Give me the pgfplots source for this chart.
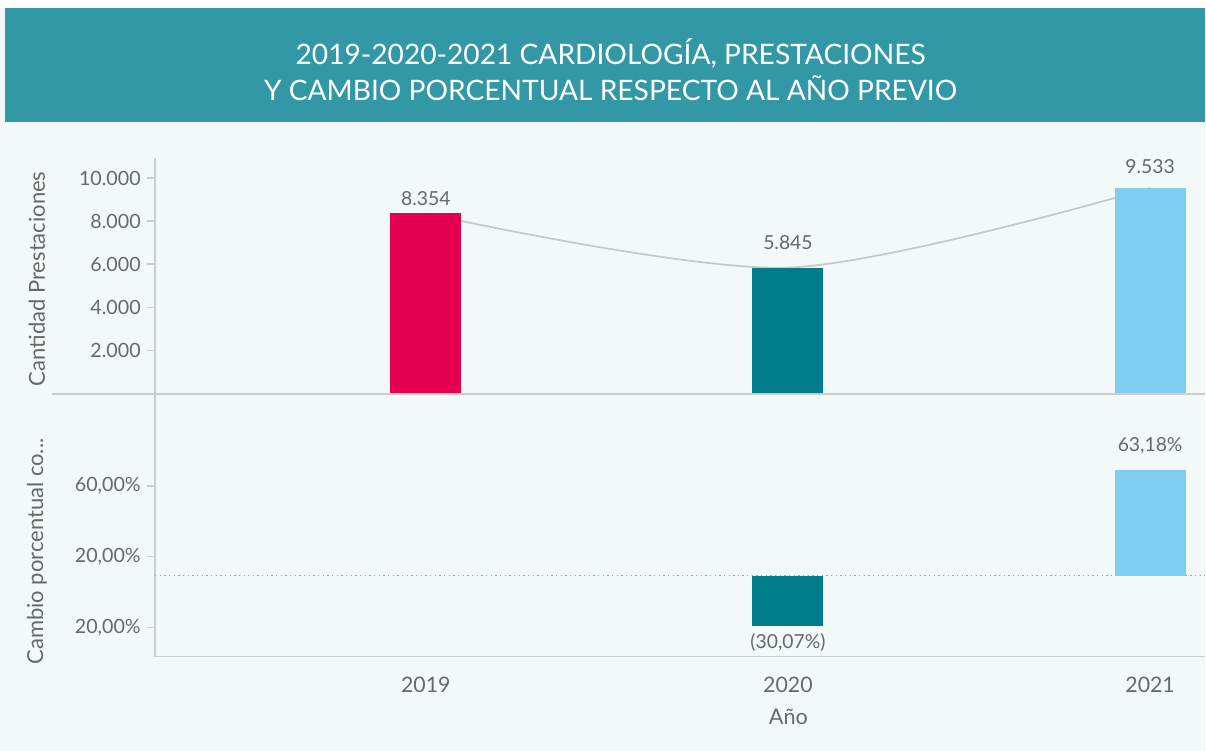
\documentclass[border=0pt]{standalone}
\usepackage{pgfplots}
\pgfplotsset{compat=1.18}
\usepackage{fontspec}
\setmainfont{Lato}
\definecolor{banner}{RGB}{51,152,166}
\definecolor{bgc}{RGB}{243,248,249}
\definecolor{red19}{RGB}{228,0,79}
\definecolor{teal20}{RGB}{0,124,138}
\definecolor{blue21}{RGB}{128,205,242}
\definecolor{axgray}{RGB}{204,204,204}
\definecolor{txt}{RGB}{104,104,104}
\begin{document}
\begin{tikzpicture}
% canvas and title banner
\fill[bgc] (0,0) rectangle (723.6pt,-450.6pt);
\fill[white] (0,0) rectangle (723.6pt,-4.8pt);
\fill[banner] (3pt,-4.8pt) rectangle (723.6pt,-73.2pt);
\node[white, align=center, font=\fontsize{16.9}{21.6}\selectfont] at (366.6pt,-42pt)
  {2019-2020-2021 CARDIOLOGÍA, PRESTACIONES\\Y CAMBIO PORCENTUAL RESPECTO AL AÑO PREVIO};

\pgfplotsset{
  panel/.style={
    scale only axis, width=630.6pt,
    xmin=-0.748, xmax=2.152,
    axis line style={axgray, line width=1pt},
    tick style={axgray, line width=1pt},
    tick align=outside, major tick length=5pt,
    yticklabel style={txt, font=\fontsize{11.8}{14}\selectfont},
    /pgf/number format/assume math mode=true,
    nodes near coords style={txt, font=\fontsize{11.6}{14}\selectfont},
  },
}

% top panel: prestaciones
\begin{axis}[panel,
  at={(93pt,-236.4pt)}, anchor=south west, height=141.6pt,
  ymin=0, ymax=10930,
  axis y line*=left, axis x line=none,
  scaled y ticks=false,
  ytick={2000,4000,6000,8000,10000},
  yticklabels={2.000,4.000,6.000,8.000,10.000},
  point meta=explicit symbolic,
]
\addplot[smooth, draw=black!22, line width=1pt] coordinates {(0,8354) (1,5845) (2,9533)};
\addplot[ybar, bar shift=0pt, bar width=0.196, fill=red19, draw=none,
  nodes near coords, every node near coord/.append style={yshift=1pt}]
  table[meta=l] {x y l
0 8354 8.354
};
\addplot[ybar, bar shift=0pt, bar width=0.196, fill=teal20, draw=none,
  nodes near coords, every node near coord/.append style={yshift=7pt}]
  table[meta=l] {x y l
1 5845 5.845
};
\addplot[ybar, bar shift=0pt, bar width=0.196, fill=blue21, draw=none,
  nodes near coords, every node near coord/.append style={yshift=5pt}]
  table[meta=l] {x y l
2 9533 9.533
};
\end{axis}

% bottom panel: cambio porcentual
\begin{axis}[panel,
  at={(93pt,-394.2pt)}, anchor=south west, height=157.8pt,
  ymin=-48.3, ymax=108.5,
  axis y line*=left, axis x line*=bottom,
  ytick={-31,11.3,53.6},
  yticklabels={20{,}00\%,20{,}00\%,60{,}00\%},
  xtick={0,1,2}, xticklabels={2019,2020,2021},
  x tick style={draw=none},
  xticklabel style={txt, font=\fontsize{12.8}{15}\selectfont, yshift=-4pt},
  point meta=explicit symbolic,
]
\draw[axgray!80!black, dotted, line width=0.8pt] (axis cs:-0.748,0) -- (axis cs:2.152,0);
\addplot[ybar, bar shift=0pt, bar width=0.196, fill=teal20, draw=none,
  nodes near coords, every node near coord/.append style={anchor=north, yshift=-1pt}]
  table[meta=l] {x y l
1 -30.07 (30,07\%)
};
\addplot[ybar, bar shift=0pt, bar width=0.196, fill=blue21, draw=none,
  nodes near coords, every node near coord/.append style={yshift=6pt}]
  table[meta=l] {x y l
2 63.18 63,18\%
};
\end{axis}

% separator and axis titles
\draw[axgray, line width=1pt] (31.2pt,-236.4pt) -- (723.6pt,-236.4pt);
\node[txt, rotate=90, font=\fontsize{13.2}{15}\selectfont] at (22.2pt,-167.4pt) {Cantidad Prestaciones};
\node[txt, rotate=90, font=\fontsize{13.2}{15}\selectfont] at (22.2pt,-331.2pt) {Cambio porcentual co...};
\node[txt, font=\fontsize{13}{15}\selectfont] at (473.4pt,-430.2pt) {Año};
\end{tikzpicture}
\end{document}
